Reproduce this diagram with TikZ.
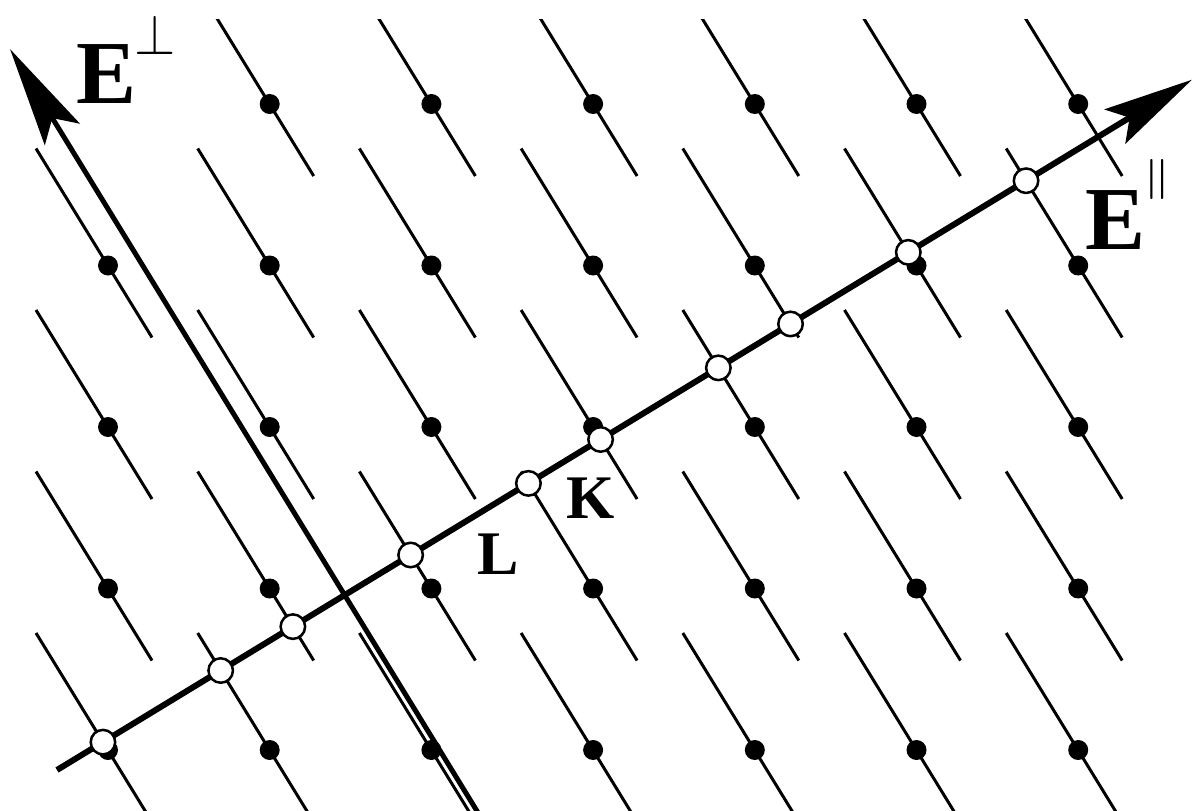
\documentclass[tikz,border=0pt]{standalone}
\usepackage{graphicx}
\usepackage{fontspec}
\setmainfont{Liberation Serif}
\usetikzlibrary{arrows.meta}
\begin{document}
\begin{tikzpicture}[x=1pt,y=-1pt,
  seg/.style={line width=3pt},
  dot/.style={circle,fill=black,inner sep=0pt,minimum size=20pt},
  proj/.style={circle,draw=black,fill=white,line width=2.5pt,inner sep=0pt,minimum size=24.5pt},
  perpaxis/.style={line width=5pt,-{Stealth[length=100pt,width=41pt,inset=19pt]}},
  paraxis/.style={line width=6pt,-{Stealth[length=90pt,width=40pt,inset=17pt]}},
  lab/.style={inner sep=0pt,anchor=base west,font=\bfseries}]
\useasboundingbox (0,0) rectangle (1192,811);
% window segments
\begin{scope}
  \clip (0,19) rectangle (1192,811);
  \foreach \j in {0,...,4}{
    \foreach \i in {0,...,6}{
      \ifnum\i\j>0
        \coordinate (sa\i\j) at ({108+161.7*\i-72},{104+161.5*\j-117});
        \coordinate (sb\i\j) at ({108+161.7*\i+44},{104+161.5*\j+72});
        \draw[seg] (sa\i\j) -- (sb\i\j);
      \fi
    }
  }
\end{scope}
% lattice points
\foreach \j in {0,...,4}{
  \foreach \i in {0,...,6}{
    \ifnum\i\j>0
      \node[dot] (d\i\j) at ({108+161.7*\i},{104+161.5*\j}) {};
    \fi
  }
}
% E perp axis
\coordinate (pb) at (483.7,822);
\coordinate (pt) at (10,49);
\draw[perpaxis] (pb) -- (pt);
% E parallel axis
\coordinate (ea) at (57,770);
\coordinate (eb) at (1192,79.7);
\draw[paraxis] (ea) -- (eb);
% projected points
\foreach \i/\j [count=\k] in {0/4,1/4,1/3,2/3,3/3,3/2,4/2,4/1,5/1,6/1}{
  \node[proj] (p\k) at (intersection cs: first line={(sa\i\j)--(sb\i\j)}, second line={(ea)--(eb)}) {};
}
% labels
\node[lab] (Eperp) at (76.6,103) {{\fontsize{90}{90}\selectfont E}\kern-2.6pt\raisebox{48pt}{\scalebox{5.3}[5.7]{\fontsize{10}{12}\selectfont$\perp$}}};
\node[lab] (Epar) at (1085.6,249) {{\fontsize{90}{90}\selectfont E}\kern-2pt\raisebox{60pt}{\scalebox{5.5}[4]{\fontsize{10}{12}\selectfont$\|$}}};
\node[lab] (L) at (477,574) {\fontsize{62}{62}\selectfont L};
\node[lab] (K) at (566,518) {\fontsize{62}{62}\selectfont K};
\end{tikzpicture}
\end{document}
